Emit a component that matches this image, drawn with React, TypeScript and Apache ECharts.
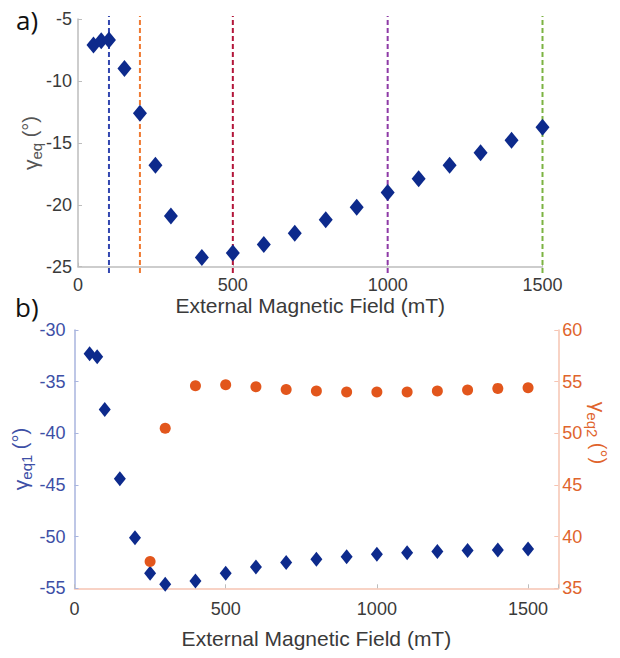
import React, { useEffect, useRef } from "react";
import * as echarts from "echarts";

// ---- data ----
const fieldsA = [50, 75, 100, 150, 200, 250, 300, 400, 500, 600, 700, 800, 900, 1000, 1100, 1200, 1300, 1400, 1500];
const gammaEq = [-7.1, -6.75, -6.7, -9.0, -12.6, -16.8, -20.9, -24.25, -23.9, -23.2, -22.3, -21.2, -20.2, -19.0, -17.9, -16.8, -15.8, -14.8, -13.75];
const markerFields = [100, 200, 500, 1000, 1500];
const markerColors = ["#3347b0", "#ef7a32", "#b3163a", "#8e3aa6", "#7cb342"];

const fieldsB1 = [50, 75, 100, 150, 200, 250, 300, 400, 500, 600, 700, 800, 900, 1000, 1100, 1200, 1300, 1400, 1500];
const gammaEq1 = [-32.3, -32.6, -37.7, -44.4, -50.1, -53.55, -54.6, -54.3, -53.55, -52.95, -52.5, -52.2, -51.95, -51.7, -51.55, -51.45, -51.35, -51.3, -51.2];
const fieldsB2 = [250, 300, 400, 500, 600, 700, 800, 900, 1000, 1100, 1200, 1300, 1400, 1500];
const gammaEq2 = [37.6, 50.5, 54.6, 54.7, 54.5, 54.25, 54.1, 54.0, 54.0, 54.0, 54.1, 54.2, 54.35, 54.4];

const xTicksA = [0, 500, 1000, 1500];
const xTicksB = [0, 500, 1000, 1500];

const NAVY = "#0d2a8c";
const ORANGE = "#e2561c";
const BLUE_TXT = "#3d4fa6";
const ORANGE_TXT = "#e0642c";
const GREY_TXT = "#3a3a3a";
const FONT = "'Liberation Sans', Arial, sans-serif";

export default function App() {
  const ref = useRef<HTMLDivElement>(null);
  useEffect(() => {
    document.body.style.margin = "0";
    const chart = echarts.init(ref.current!, null, { renderer: "svg" });
    const gA = { left: 78, top: 19, width: 464.5, height: 247.7 };
    const gB = { left: 74.5, top: 330, width: 483.8, height: 258.3 };

    const vlines = markerFields.map((f, i) => ({
      type: "line",
      xAxisIndex: 0,
      yAxisIndex: 0,
      data: [[f, -25.5], [f, -4.75]],
      symbol: "none",
      clip: false,
      silent: true,
      lineStyle: { color: markerColors[i], width: 2, type: [5, 3] },
      z: 1,
    }));

    const richBase = (color: string, sub: string) => ({
      text: `{g|γ}{s|${sub}}{n| (°)}`,
      fill: color,
      align: "center",
      verticalAlign: "middle",
      rich: {
        g: { fontSize: 21, lineHeight: 22, verticalAlign: "top", fill: color, fontFamily: FONT },
        s: { fontSize: 15, lineHeight: 15, padding: [9, 0, 0, 0], verticalAlign: "top", fill: color, fontFamily: FONT },
        n: { fontSize: 20, lineHeight: 22, verticalAlign: "top", fill: color, fontFamily: FONT },
      },
    });

    chart.setOption({
      animation: false,
      textStyle: { fontFamily: FONT },
      grid: [
        { ...gA, containLabel: false },
        { ...gB, containLabel: false },
      ],
      xAxis: [
        {
          type: "value",
          gridIndex: 0,
          min: 0,
          max: 1500,
          interval: 500,
          name: "External Magnetic Field (mT)",
          nameLocation: "middle",
          nameGap: 25,
          nameTextStyle: { fontSize: 21, color: GREY_TXT, fontFamily: FONT },
          axisLine: { lineStyle: { color: "#bdbdbd", width: 1.5 } },
          axisTick: { inside: true, length: 4, lineStyle: { color: "#bdbdbd" } },
          axisLabel: {
            fontSize: 18,
            color: GREY_TXT,
            fontFamily: FONT,
            margin: 9,
            formatter: (v: number) => (xTicksA.includes(v) ? String(v) : ""),
          },
          splitLine: { show: false },
        },
        {
          type: "value",
          gridIndex: 1,
          min: 0,
          max: 1600,
          interval: 500,
          name: "External Magnetic Field (mT)",
          nameLocation: "middle",
          nameGap: 40,
          nameTextStyle: { fontSize: 21, color: GREY_TXT, fontFamily: FONT },
          axisLine: { lineStyle: { color: "#f6c4b2", width: 1.5 } },
          axisTick: { inside: true, length: 4, lineStyle: { color: "#bdbdbd" } },
          axisLabel: {
            fontSize: 18,
            color: GREY_TXT,
            fontFamily: FONT,
            margin: 12,
            formatter: (v: number) => (xTicksB.includes(v) ? String(v) : ""),
          },
          splitLine: { show: false },
        },
      ],
      yAxis: [
        {
          type: "value",
          gridIndex: 0,
          min: -25,
          max: -5,
          interval: 5,
          axisLine: { show: true, lineStyle: { color: "#bdbdbd", width: 1.5 } },
          axisTick: { show: true, inside: true, length: 4, lineStyle: { color: "#bdbdbd" } },
          axisLabel: { fontSize: 18, color: GREY_TXT, fontFamily: FONT, margin: 6 },
          splitLine: { show: false },
        },
        {
          type: "value",
          gridIndex: 1,
          min: -55,
          max: -30,
          interval: 5,
          position: "left",
          axisLine: { show: true, lineStyle: { color: "#a9b5de", width: 1.5 } },
          axisTick: { show: true, inside: true, length: 4, lineStyle: { color: "#a9b5de" } },
          axisLabel: { fontSize: 18, color: BLUE_TXT, fontFamily: FONT, margin: 9 },
          splitLine: { show: false },
        },
        {
          type: "value",
          gridIndex: 1,
          min: 35,
          max: 60,
          interval: 5,
          position: "right",
          axisLine: { show: true, lineStyle: { color: "#f6c4b2", width: 1.5 } },
          axisTick: { show: true, inside: true, length: 4, lineStyle: { color: "#f6c4b2" } },
          axisLabel: { fontSize: 18, color: ORANGE_TXT, fontFamily: FONT, margin: 4 },
          splitLine: { show: false },
        },
      ],
      graphic: [
        { type: "text", left: 16, top: 7, style: { text: "a)", fontSize: 26, fill: "#111", fontFamily: "'Open Sans', sans-serif" } },
        { type: "text", left: 15, top: 294, style: { text: "b)", fontSize: 26, fill: "#111", fontFamily: "'Open Sans', sans-serif" } },
        { type: "text", x: 31, y: 143, rotation: Math.PI / 2, style: richBase("#555", "eq") },
        { type: "text", x: 21, y: 459, rotation: Math.PI / 2, style: richBase(BLUE_TXT, "eq1") },
        { type: "text", x: 598, y: 433, rotation: -Math.PI / 2, style: richBase(ORANGE_TXT, "eq2") },
      ],
      series: [
        ...vlines,
        {
          type: "scatter",
          xAxisIndex: 0,
          yAxisIndex: 0,
          data: fieldsA.map((f, i) => [f, gammaEq[i]]),
          symbol: "diamond",
          symbolSize: [14, 17],
          itemStyle: { color: NAVY, opacity: 1 },
          z: 3,
        },
        {
          type: "scatter",
          xAxisIndex: 1,
          yAxisIndex: 1,
          data: fieldsB1.map((f, i) => [f, gammaEq1[i]]),
          symbol: "diamond",
          symbolSize: [12, 15],
          itemStyle: { color: NAVY, opacity: 1 },
          z: 3,
        },
        {
          type: "scatter",
          xAxisIndex: 1,
          yAxisIndex: 2,
          data: fieldsB2.map((f, i) => [f, gammaEq2[i]]),
          symbol: "circle",
          symbolSize: 11,
          itemStyle: { color: ORANGE, opacity: 1 },
          z: 3,
        },
      ],
    });
    return () => chart.dispose();
  }, []);
  return <div ref={ref} style={{ width: 620, height: 658 }} />;
}
